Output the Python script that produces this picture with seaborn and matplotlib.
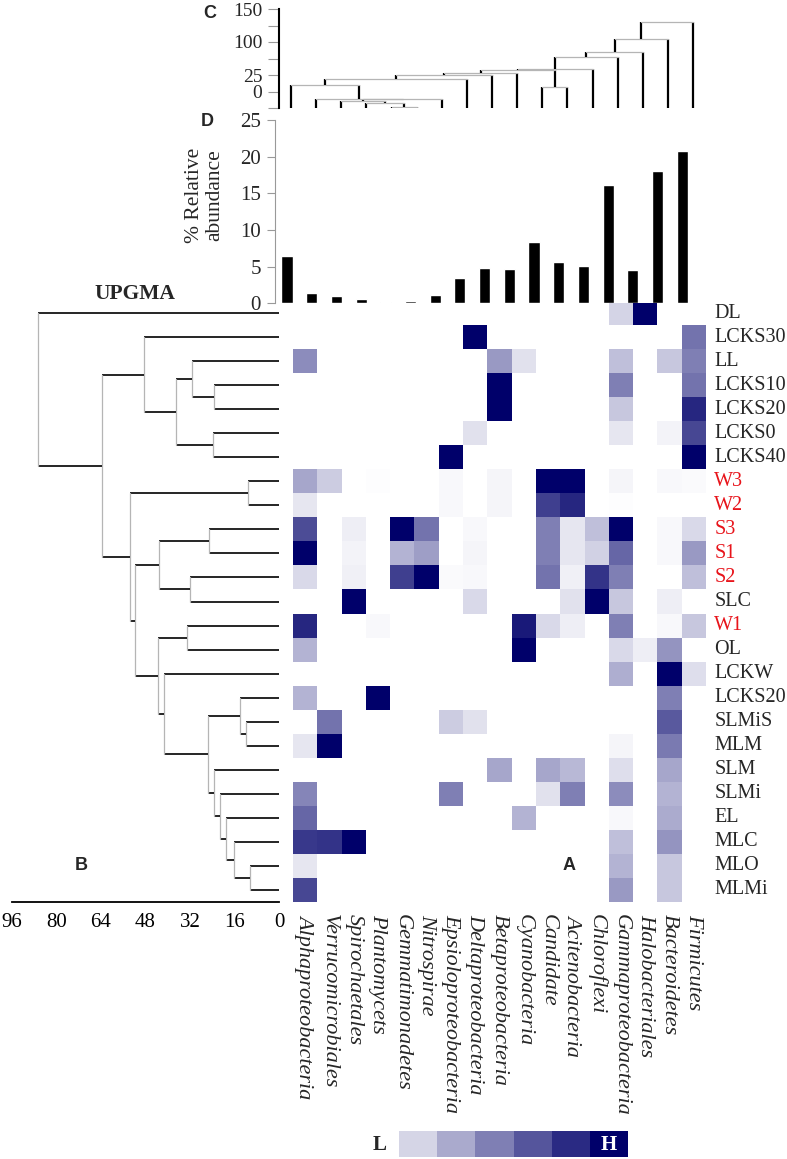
import matplotlib
matplotlib.use("Agg")
import matplotlib.pyplot as plt
from matplotlib.colors import LinearSegmentedColormap, ListedColormap
import numpy as np
import pandas as pd
import seaborn as sns

# ---- data ----
taxa = ["Alphaproteobacteria", "Verrucomicrobiales", "Spirochaetales", "Plantomycets",
        "Gemmatimonadetes", "Nitrospirae", "Epsioloproteobacteria", "Deltaproteobacteria",
        "Betaproteobacteria", "Cyanobacteria", "Candidate", "Acitenobacteria", "Chloroflexi",
        "Gammaproteobacteria", "Halobacteriales", "Bacteroidetes", "Firmicutes"]
samples = ["DL", "LCKS30", "LL", "LCKS10", "LCKS20", "LCKS0", "LCKS40", "W3", "W2", "S3",
           "S1", "S2", "SLC", "W1", "OL", "LCKW", "LCKS20", "SLMiS", "MLM", "SLM", "SLMi",
           "EL", "MLC", "MLO", "MLMi"]
red_samples = ["W3", "W2", "S3", "S1", "S2", "W1"]

abundance = [6.5, 1.36, 1.0, 0.64, 0.18, 0.27, 1.14, 3.4, 4.77, 4.68, 8.3, 5.6, 5.05,
             16.1, 4.6, 18.1, 20.8]

# relative intensity per sample (rows) x taxon (cols), 0 = absent
intensity = [
    [0, 0, 0, 0, 0, 0, 0, 0, 0, 0, 0, 0, 0, .17, 1, 0, 0],
    [0, 0, 0, 0, 0, 0, 0, 1, 0, 0, 0, 0, 0, 0, 0, 0, .55],
    [.45, 0, 0, 0, 0, 0, 0, 0, .4, .12, 0, 0, 0, .25, 0, .22, .5],
    [0, 0, 0, 0, 0, 0, 0, 0, 1, 0, 0, 0, 0, .5, 0, 0, .55],
    [0, 0, 0, 0, 0, 0, 0, 0, 1, 0, 0, 0, 0, .22, 0, 0, .85],
    [0, 0, 0, 0, 0, 0, 0, .12, 0, 0, 0, 0, 0, .1, 0, .05, .72],
    [0, 0, 0, 0, 0, 0, 1, 0, 0, 0, 0, 0, 0, 0, 0, 0, 1],
    [.35, .2, 0, .01, 0, 0, .03, 0, .04, 0, 1, 1, 0, .04, 0, .03, .02],
    [.1, 0, 0, 0, 0, 0, .03, 0, .04, 0, .75, .85, 0, .01, 0, 0, 0],
    [.7, 0, .07, 0, 1, .55, 0, .03, 0, 0, .5, .1, .25, 1, 0, .03, .15],
    [1, 0, .05, 0, .3, .38, 0, .04, 0, 0, .5, .1, .18, .6, 0, .03, .4],
    [.15, 0, .06, 0, .75, 1, .02, .03, 0, 0, .55, .06, .8, .5, 0, 0, .25],
    [0, 0, 1, 0, 0, 0, 0, .15, 0, 0, 0, .12, 1, .22, 0, .07, 0],
    [.85, 0, 0, .03, 0, 0, 0, 0, 0, .9, .15, .07, 0, .5, 0, .03, .22],
    [.3, 0, 0, 0, 0, 0, 0, 0, 0, 1, 0, 0, 0, .15, .07, .42, 0],
    [0, 0, 0, 0, 0, 0, 0, 0, 0, 0, 0, 0, 0, .32, 0, 1, .13],
    [.3, 0, 0, 1, 0, 0, 0, 0, 0, 0, 0, 0, 0, 0, 0, .5, 0],
    [0, .55, 0, 0, 0, 0, .2, .12, 0, 0, 0, 0, 0, 0, 0, .65, 0],
    [.1, 1, 0, 0, 0, 0, 0, 0, 0, 0, 0, 0, 0, .04, 0, .52, 0],
    [0, 0, 0, 0, 0, 0, 0, 0, .35, 0, .35, .28, 0, .13, 0, .35, 0],
    [.48, 0, 0, 0, 0, 0, .5, 0, 0, 0, .12, .5, 0, .45, 0, .3, 0],
    [.6, 0, 0, 0, 0, 0, 0, 0, 0, .3, 0, 0, 0, .03, 0, .33, 0],
    [.78, .8, 1, 0, 0, 0, 0, 0, 0, 0, 0, 0, 0, .25, 0, .42, 0],
    [.1, 0, 0, 0, 0, 0, 0, 0, 0, 0, 0, 0, 0, .3, 0, .22, 0],
    [.72, 0, 0, 0, 0, 0, 0, 0, 0, 0, 0, 0, 0, .4, 0, .22, 0],
]

# UPGMA merges of samples: (child a, child b, distance); new node ids start at 25
sample_merges = [
    (3, 4, 23.4), (2, 25, 31.2), (5, 6, 23.8), (26, 27, 36.9), (1, 28, 48.7),
    (7, 8, 11.3), (9, 10, 25.1), (11, 12, 32.0), (31, 32, 43.3), (13, 14, 33.2),
    (17, 18, 11.7), (16, 35, 14.1), (23, 24, 10.6), (22, 37, 16.3), (21, 38, 18.9),
    (20, 39, 21.3), (19, 40, 23.5), (36, 41, 25.5), (15, 42, 41.5), (34, 43, 43.6),
    (33, 44, 51.7), (30, 45, 53.5), (29, 46, 63.5), (0, 47, 86.5),
]
# merges of taxa (panel C, axis units); new node ids start at 17
taxa_merges = [
    (4, 5, 1), (3, 17, 7), (2, 18, 10.6), (19, 6, 13.6), (1, 20, 14), (0, 21, 34.4),
    (22, 7, 43.5), (23, 8, 49.5), (24, 9, 52.6), (10, 11, 31.4), (25, 26, 57),
    (27, 12, 58.6), (28, 13, 77.7), (29, 14, 84.4), (30, 15, 104), (31, 16, 131),
]
c_ticks = [0, 25, 50, 75, 100, 125, 150]
c_ticklabels = ["", "0", "25", "", "100", "", "150"]
tree_ticks = [96, 80, 64, 48, 32, 16, 0]
legend_levels = 6

# ---- figure ----
W, H = 787, 1159
fig = plt.figure(figsize=(W / 100, H / 100), dpi=100)
sns.set_style("white")
plt.rcParams["font.family"] = ["Liberation Serif", "DejaVu Serif"]
plt.rcParams["axes.linewidth"] = 0.8


def px_axes(x0, y0, x1, y1):
    return fig.add_axes([x0 / W, 1 - y1 / H, (x1 - x0) / W, (y1 - y0) / H])


def draw_tree(ax, merges, n, leaf_pos, vertical):
    pos = {i: (leaf_pos[i], 0.0) for i in range(n)}
    for k, (a, b, h) in enumerate(merges):
        pa, ha = pos[a]
        pb, hb = pos[b]
        if vertical:
            ax.plot([pa, pa], [ha, h], color="black", lw=1.6, solid_capstyle="butt")
            ax.plot([pb, pb], [hb, h], color="black", lw=1.6, solid_capstyle="butt")
            ax.plot([pa, pb], [h, h], color="#b5b5b5", lw=0.9)
        else:
            ax.plot([ha, h], [pa, pa], color="black", lw=1.2, solid_capstyle="butt")
            ax.plot([hb, h], [pb, pb], color="black", lw=1.2, solid_capstyle="butt")
            ax.plot([h, h], [pa, pb], color="#b5b5b5", lw=0.9)
        pos[n + k] = ((pa + pb) / 2, h)


# heatmap (A)
cmap = LinearSegmentedColormap.from_list("navy", ["#ffffff", "#00006a"])
ax_hm = px_axes(293, 301, 706, 902)
df = pd.DataFrame(intensity, index=samples, columns=taxa)
sns.heatmap(df, ax=ax_hm, cmap=cmap, vmin=0, vmax=1, cbar=False,
            xticklabels=True, yticklabels=True)
ax_hm.yaxis.tick_right()
ax_hm.tick_params(axis="both", length=0)
ax_hm.set_yticklabels(samples, rotation=0, va="center", fontsize=14.5)
for lab in ax_hm.get_yticklabels():
    if lab.get_text() in red_samples:
        lab.set_color("#e8141b")
ax_hm.set_xticklabels(taxa, rotation=-90, ha="center", va="top", style="italic",
                      fontsize=16)
ax_hm.tick_params(axis="x", pad=9)
ax_hm.tick_params(axis="y", pad=6)
ax_hm.set_xlabel("")
ax_hm.set_ylabel("")

# sample tree (B)
ax_b = px_axes(12, 301, 279, 902)
draw_tree(ax_b, sample_merges, len(samples), [i + 0.5 for i in range(len(samples))], False)
ax_b.set_xlim(96, 0)
ax_b.set_ylim(len(samples), 0)
ax_b.set_yticks([])
ax_b.set_xticks(tree_ticks)
ax_b.set_xticklabels([str(t) for t in tree_ticks])
for s in ["top", "left", "right"]:
    ax_b.spines[s].set_visible(False)
ax_b.spines["bottom"].set_color("black")
ax_b.spines["bottom"].set_linewidth(1.3)
ax_b.tick_params(axis="x", length=5, width=0.8, colors="black", labelsize=15, pad=3,
                 direction="out")

# abundance bars (D)
ax_d = px_axes(275, 120, 705, 303.3)
sns.barplot(x=taxa, y=abundance, color="black", width=0.45, ax=ax_d, saturation=1)
ax_d.set_xlim(-0.486, 16.92)
ax_d.set_ylim(0, 25)
ax_d.set_yticks([0, 5, 10, 15, 20, 25])
ax_d.set_xticks([])
ax_d.set_xlabel("")
for s in ["top", "right", "bottom"]:
    ax_d.spines[s].set_visible(False)
ax_d.spines["left"].set_color("#999999")
ax_d.tick_params(axis="y", length=6, width=0.8, color="#999999", labelsize=15, pad=4,
                 left=True)

# taxa tree (C)
ax_c = px_axes(279, 9, 705, 108)
draw_tree(ax_c, taxa_merges, len(taxa), list(range(len(taxa))), True)
ax_c.set_xlim(-0.477, 16.47)
ax_c.set_ylim(0, 150)
ax_c.set_xticks([])
ax_c.set_yticks(c_ticks)
ax_c.set_yticklabels(c_ticklabels)
for s in ["top", "right", "bottom"]:
    ax_c.spines[s].set_visible(False)
ax_c.spines["left"].set_color("black")
ax_c.spines["left"].set_linewidth(1.5)
ax_c.tick_params(axis="y", length=8, width=0.8, color="#999999", labelsize=14, pad=4,
                 left=True)

# intensity legend
ax_l = px_axes(399, 1131, 628, 1157)
legend_cmap = ListedColormap([cmap((i + 1) / legend_levels) for i in range(legend_levels)])
sns.heatmap([list(range(legend_levels))], ax=ax_l, cmap=legend_cmap, cbar=False,
            xticklabels=False, yticklabels=False)

# texts
fig.text(380 / W, 1 - 1145 / H, "L", ha="center", va="center", fontsize=15, fontweight="bold")
fig.text(609 / W, 1 - 1145 / H, "H", ha="center", va="center", fontsize=15,
         fontweight="bold", color="white")
fig.text(135 / W, 1 - 294 / H, "UPGMA", ha="center", va="center", fontsize=15.5,
         fontweight="bold")
fig.text(205 / W, 1 - 195 / H, "% Relative\nabundance", ha="center", va="center",
         rotation=90, fontsize=15.5, linespacing=1.1)
for txt, x, y in [("C", 210, 13), ("D", 207, 121), ("B", 81, 865), ("A", 569, 866)]:
    fig.text(x / W, 1 - y / H, txt, ha="center", va="center", fontsize=13,
             fontweight="bold", family=["Liberation Sans", "DejaVu Sans"])

fig.savefig("out.png", dpi=100)
